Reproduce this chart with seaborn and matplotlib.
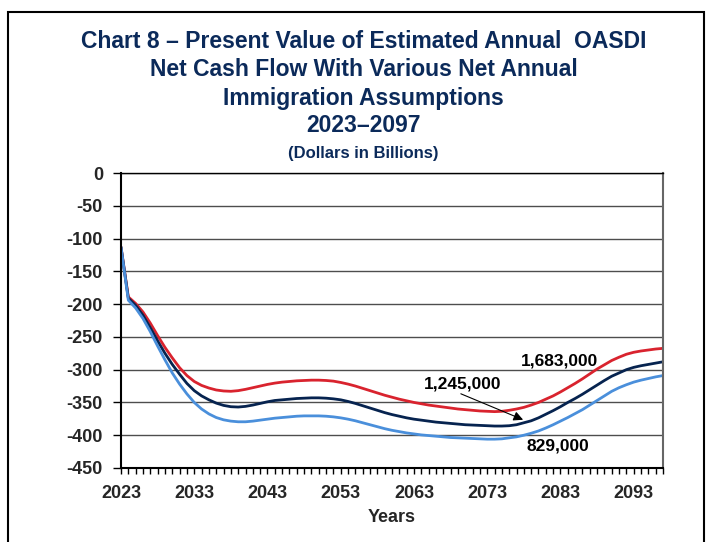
import numpy as np
import pandas as pd
import matplotlib
matplotlib.use("Agg")
import matplotlib.pyplot as plt
from matplotlib.patches import Rectangle
import seaborn as sns

years = list(range(2023, 2098))

high_1683 = [-113, -189, -199, -212, -229, -248, -266, -282, -297, -309,
             -318, -324, -328, -331, -332.5, -333, -332, -330, -327.5, -325,
             -322.5, -320.5, -319, -318, -317, -316.5, -316, -316, -316.5, -317.5,
             -319.5, -322, -325, -328.5, -332, -335.5, -339, -342, -345, -347.5,
             -350, -352, -354, -355.5, -357, -358.5, -360, -361, -362, -363,
             -363.5, -364, -363.5, -362, -360, -357.5, -354, -350, -345, -340,
             -334, -327.5, -321, -314, -306.5, -299, -292.5, -286, -281, -276.5,
             -273.5, -271.5, -270, -268.5, -267.5]

mid_1245 = [-113, -191, -202, -217, -236, -256, -275, -292, -307, -321,
            -332, -340, -346, -351, -354.5, -356.5, -357, -356, -354, -351.5,
            -349, -347, -346, -345, -344, -343.5, -343, -343, -343.5, -344.5,
            -346, -348.5, -351.5, -355, -358.5, -362, -365.5, -368.5, -371, -373.5,
            -375.5, -377, -378.5, -380, -381, -382, -383, -384, -384.5, -385,
            -385.5, -386, -386, -385.5, -384, -381, -378, -373.5, -368, -362.5,
            -356.5, -350, -344, -337.5, -330.5, -323.5, -316.5, -310, -305, -300,
            -296.5, -294, -292, -290, -288]

low_829 = [-113, -194, -206, -222, -242, -264, -285, -305, -322, -337,
           -350, -360, -367.5, -373, -376.5, -378.5, -379.5, -379.5, -378.5, -377,
           -375.5, -374, -373, -372, -371, -370.5, -370.5, -370.5, -371, -372,
           -373.5, -375.5, -378, -381, -384, -387, -390, -392.5, -394.5, -396.5,
           -398, -399.5, -400.5, -401.5, -402.5, -403.5, -404, -404.5, -405, -405.5,
           -406, -406, -405.5, -404, -402.5, -400, -397, -393.5, -389, -384,
           -378.5, -373, -367, -361, -354, -347, -340, -333, -327.5, -323,
           -319, -316, -313.5, -311, -309]

series_names = ["1,683,000", "1,245,000", "829,000"]
y_ticks = list(range(0, -451, -50))
x_ticks = list(range(2023, 2094, 10))

df = pd.DataFrame({
    "Year": years * 3,
    "Value": high_1683 + mid_1245 + low_829,
    "Series": [series_names[0]] * len(years) + [series_names[1]] * len(years)
              + [series_names[2]] * len(years),
})

sns.set_theme(style="white")
plt.rcParams["font.family"] = ["Liberation Sans", "DejaVu Sans"]

navy = "#0B2A5A"
palette = {series_names[0]: "#D9232E", series_names[1]: "#06234F",
           series_names[2]: "#4A8FDB"}

fig = plt.figure(figsize=(7.13, 5.42), dpi=100)
ax = fig.add_axes([121 / 713, 1 - 468 / 542, (663 - 121) / 713, (468 - 173) / 542])

sns.lineplot(data=df, x="Year", y="Value", hue="Series", palette=palette,
             hue_order=series_names, linewidth=2.0, legend=False, ax=ax)

ax.set_xlim(2023, 2097)
ax.set_ylim(-450, 0)
ax.set_yticks(y_ticks)
ax.set_yticklabels([str(v) for v in y_ticks], fontsize=13, fontweight="bold")
ax.set_xticks(x_ticks)
ax.set_xticklabels([str(v) for v in x_ticks], fontsize=13, fontweight="bold")
ax.set_xticks(years, minor=True)
ax.tick_params(axis="x", which="both", direction="out", length=4, width=1,
               color="black", bottom=True, pad=8.5)
ax.tick_params(axis="y", which="major", direction="out", length=6, width=1,
               color="black", left=True, pad=7)
ax.yaxis.grid(True, color="#4d4d4d", linewidth=1.0)
ax.xaxis.grid(False)
ax.set_axisbelow(True)
for s in ["left", "bottom"]:
    ax.spines[s].set_color("black")
    ax.spines[s].set_linewidth(1.5)
ax.spines["top"].set_color("black")
ax.spines["top"].set_linewidth(1.0)
ax.spines["right"].set_color("#666666")
ax.spines["right"].set_linewidth(1.5)

ax.set_xlabel("Years", fontsize=13, fontweight="bold", labelpad=5)
ax.set_ylabel("")

lab_kw = dict(ha="center", va="center", fontsize=12.5, fontweight="bold", color="black")
ax.text(2082.9, -286.6, series_names[0], **lab_kw)
ax.text(2069.6, -322.4, series_names[1], **lab_kw)
ax.text(2082.6, -416, series_names[2], **lab_kw)
ax.annotate("", xy=(2077.9, -376.4), xytext=(2069.4, -336.8),
            arrowprops=dict(arrowstyle="-|>", color="black", lw=0.8,
                            mutation_scale=14, shrinkA=0, shrinkB=0))

title_lines = ["Chart 8 \u2013 Present Value of Estimated Annual  OASDI",
               "Net Cash Flow With Various Net Annual",
               "Immigration Assumptions",
               "2023\u20132097"]
ys = [41, 70, 98, 126]
cx = 0.5 * (75 + 652) / 713
for t, y in zip(title_lines, ys):
    fig.text(cx, 1 - y / 542, t, ha="center", va="center",
             fontsize=16.5, fontweight="bold", color=navy)
fig.text(cx, 1 - 153 / 542, "(Dollars in Billions)",
         ha="center", va="center", fontsize=12, fontweight="bold", color=navy)

fig.add_artist(Rectangle((8 / 713, -0.1), (704 - 8) / 713, 1.1 - 12 / 542,
                         transform=fig.transFigure, fill=False,
                         edgecolor="black", linewidth=1.5, clip_on=False))

fig.savefig("out.png", dpi=100)
